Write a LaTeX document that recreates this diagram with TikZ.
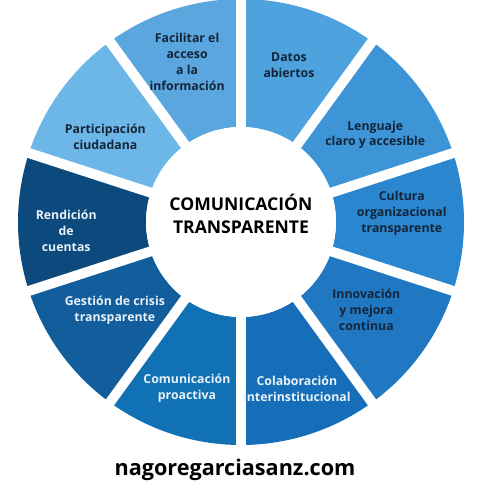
\documentclass[tikz,border=0pt]{standalone}
\usepackage{fontspec}
\setmainfont{Open Sans}
\usepackage{xcolor}
\usepackage{tikz}
\usetikzlibrary{positioning,calc}
\definecolor{datosC}{HTML}{4EA2DD}
\definecolor{lenguajeC}{HTML}{3D95D7}
\definecolor{culturaC}{HTML}{2A86CE}
\definecolor{innovC}{HTML}{2178C2}
\definecolor{colabC}{HTML}{176EB8}
\definecolor{proacC}{HTML}{1071B5}
\definecolor{gestionC}{HTML}{125D9B}
\definecolor{rendC}{HTML}{0C4A7D}
\definecolor{partC}{HTML}{6DB6E8}
\definecolor{facilC}{HTML}{5AA6DE}
\definecolor{darktxt}{HTML}{14253A}
\definecolor{lighttxt}{HTML}{E8F1F8}
\tikzset{lab/.style={align=center, text=darktxt, font=\bfseries\fontsize{7}{9}\selectfont},
	labw/.style={lab, text=lighttxt},
	gap/.style={white, line width=0.2cm}}

\begin{document}
\begin{tikzpicture}
				\useasboundingbox (-4.82,-5.56) rectangle (5.18,4.44);
				
				% ring segments
				\foreach \a/\c in {90/datosC, 54/lenguajeC, 18/culturaC, -18/innovC, -54/colabC, -90/proacC, -126/gestionC, -162/rendC, 162/partC, 126/facilC}
				\fill[\c] (\a:1.9) arc[start angle=\a, delta angle=-36, radius=1.9] -- ({\a-36}:4.46) arc[start angle={\a-36}, delta angle=36, radius=4.46] -- cycle;
				\foreach \a in {90,54,18,-18,-54,-90,-126,-162,162,126}
				\draw[gap] (0,0) -- (\a:4.7);
				
				\node[circle, fill=white, minimum size=3.8cm] (hub) at (0,0) {};
				\node[align=center, text=black, font=\bfseries\fontsize{10}{13.5}\selectfont] (title) at (0,0.16) {COMUNICACIÓN\\TRANSPARENTE};
				
				\node[lab] (facil) at (108.6:3.38) {Facilitar el\\acceso\\a la\\información};
				\node[lab] (datos) at (73:3.28) {Datos\\abiertos};
				\node[lab] (lenguaje) at (33:3.2) {Lenguaje\\claro y accesible};
				\node[lab] (cultura) at (3:3.22) {Cultura\\organizacional\\transparente};
				\node[lab] (innov) at (-35:3.06) {Innovación\\y mejora\\continua};
				\node[labw] (colab) at (-71.5:3.52) {Colaboración\\interinstitucional};
				\node[labw] (proac) at (-108:3.5) {Comunicación\\proactiva};
				\node[labw] (gestion) at (-145:3.08) {Gestión de crisis\\transparente};
				\node[labw] (rend) at (183:3.5) {Rendición\\de\\cuentas};
				\node[lab] (part) at (148:3.2) {Participación\\ciudadana};
				
				\node[font=\bfseries\fontsize{12.3}{15}\selectfont, text=black] (web) at (-0.12,-4.96) {nagoregarciasanz.com};
			\end{tikzpicture}
\end{document}
